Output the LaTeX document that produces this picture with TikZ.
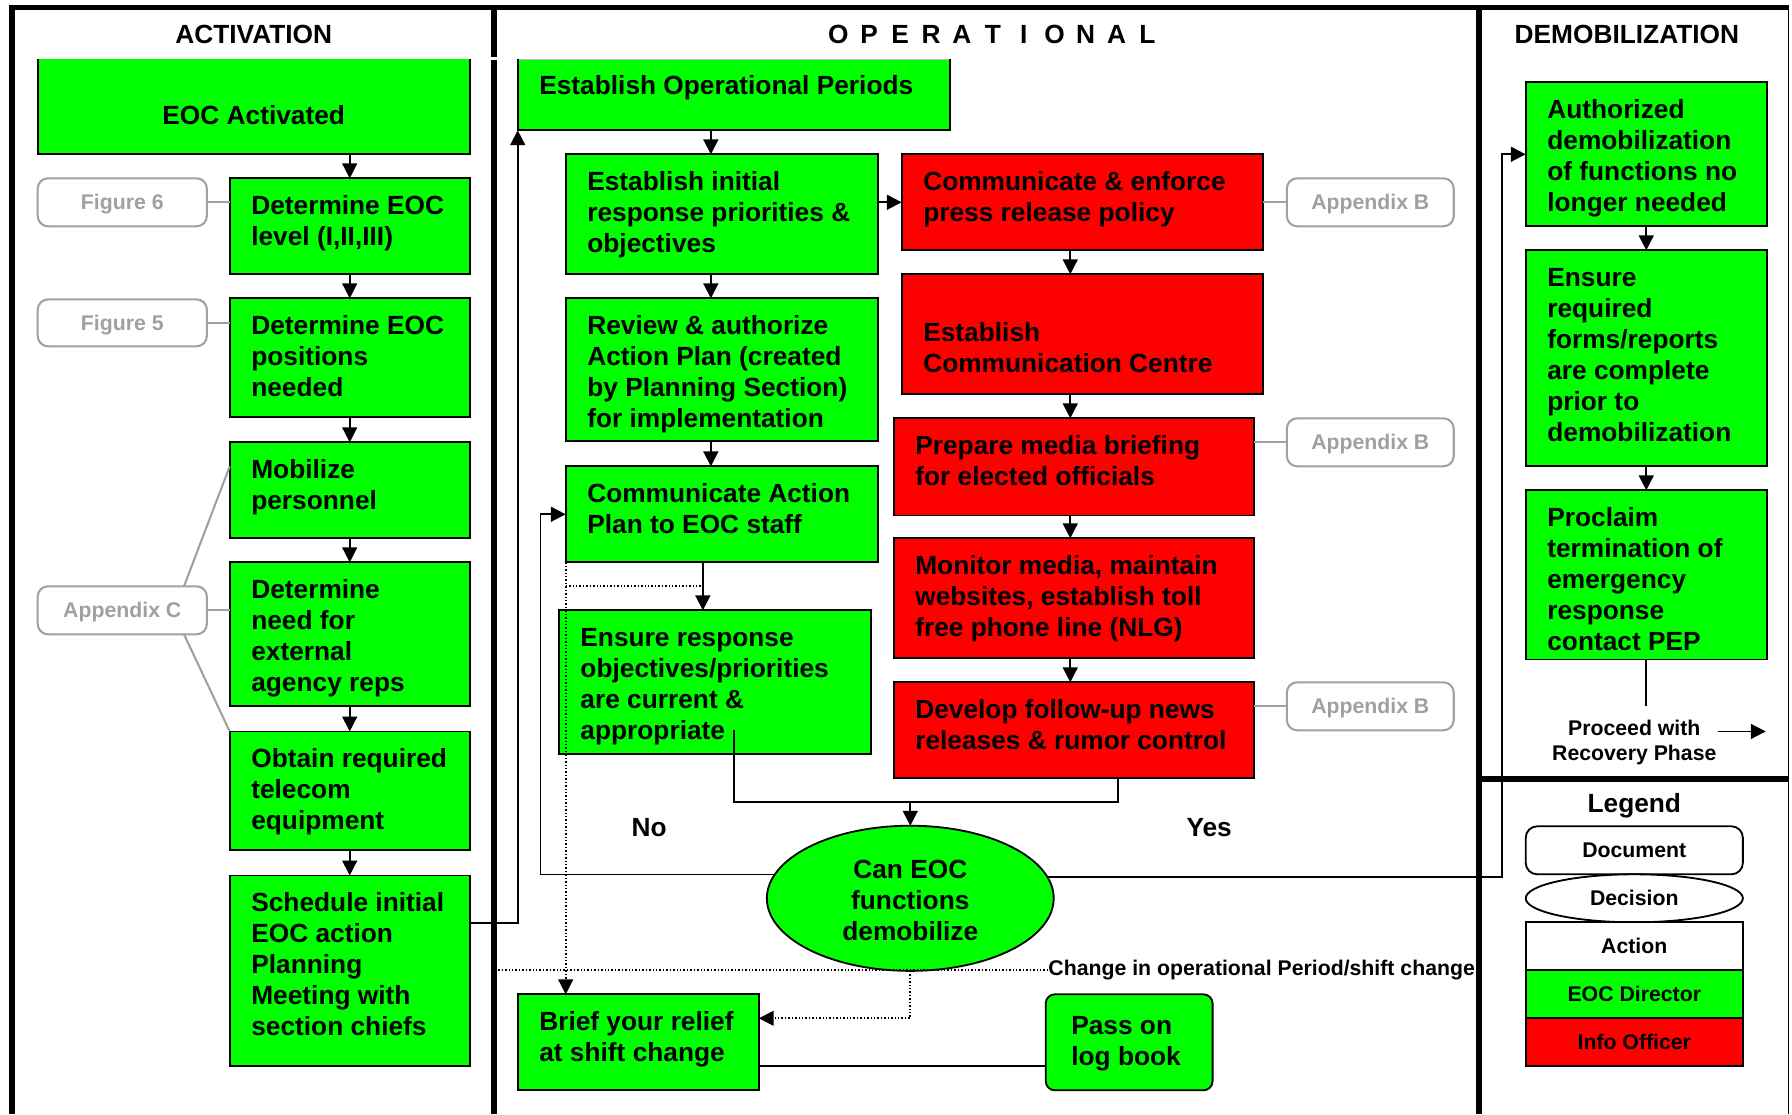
\documentclass[tikz,border=0pt]{standalone}
\usepackage{fontspec}
\setmainfont{Liberation Sans}
\usetikzlibrary{arrows.meta,calc,shapes.geometric}

\definecolor{dirgreen}{RGB}{0,255,0}
\definecolor{infored}{RGB}{255,0,0}
\definecolor{docgrey}{RGB}{160,160,160}

\tikzset{
  boxbase/.style={draw=black, line width=0.8pt, inner sep=0pt, outer sep=0pt, rectangle},
  dirbox/.style={boxbase, fill=dirgreen},
  infobox/.style={boxbase, fill=infored},
  docbox/.style={draw=docgrey, line width=0.9pt, rounded corners=4.5pt, inner sep=0pt, outer sep=0pt,
    text=docgrey, text depth=0pt, font=\fontsize{9.3}{11}\selectfont\bfseries},
  boxtext/.style={anchor=north west, align=left, inner sep=0pt, font=\fontsize{11.5}{13.6}\selectfont\bfseries},
  header/.style={inner sep=0pt, font=\fontsize{11.5}{13.6}\selectfont\bfseries},
  smalltext/.style={inner sep=0pt, align=center, font=\fontsize{9.3}{11}\selectfont\bfseries},
  legendbox/.style={draw=black, line width=0.8pt, inner sep=0pt, outer sep=0pt,
    minimum width=95pt, minimum height=21pt, font=\fontsize{9.3}{11}\selectfont\bfseries},
  flow/.style={line width=0.8pt, -{Triangle[length=6.5pt,width=6.5pt]}},
  plainline/.style={line width=0.8pt},
  refline/.style={draw=docgrey, line width=0.9pt},
  dotline/.style={line width=0.8pt, dash pattern=on 0.6pt off 0.9pt},
  framerule/.style={line width=2.2pt},
  divider/.style={line width=2.8pt},
}

% box from corner (x1,y1) to (x2,y2), text set from its top left corner
% #1 extra drop of the text, #2 name, #3 style, #4 x1, #5 y1, #6 x2, #7 y2, #8 text
\newcommand\flowbox[8][0pt]{%
  \pgfmathsetmacro\fbw{(#6-#4)/2}%
  \pgfmathsetmacro\fbh{(#7-#5)/2}%
  \node[#3, minimum width=\fbw pt, minimum height=\fbh pt] (#2) at ({(#4+#6)/2},{(#5+#7)/2}) {};%
  \node[boxtext] (#2-t) at ([xshift=9.25pt, yshift=-6.5pt-#1]#2.north west) {\rule{0pt}{9pt}#8};%
}

\begin{document}
\begin{tikzpicture}[x=0.5pt, y=-0.5pt]
\useasboundingbox (0,0) rectangle (1568,975);

% ---------- frame and column rules ----------
\draw[framerule] (10.5,975) -- (10.5,6.5) -- (1565,6.5);
\draw[line width=0.7pt] (1565,6.5) -- (1565,975);
\draw[divider] (432.5,6.5) -- (432.5,49.5);
\draw[divider] (432.5,52.5) -- (432.5,975);
\draw[divider] (1294,6.5) -- (1294,975);
\draw[divider] (1294,681.5) -- (1565,681.5);

% ---------- column headers ----------
\node[header] (hAct) at (222,30) {ACTIVATION};
\foreach \ch [count=\i from 0] in {O,P,E,R,A,T,I,O,N,A,L}
  \node[header] (hOp\i) at ({733.5+27.05*\i},30) {\ch};
\node[header] (hDem) at (1423.5,30) {DEMOBILIZATION};

% ---------- activation ----------
\node[fill=dirgreen, inner sep=0pt, outer sep=0pt, minimum width=189pt, minimum height=41.5pt] (act) at (222,93.5) {};
\draw[plainline] (act.north west) -- (act.south west) -- (act.south east) -- (act.north east);
\node[header] (act-t) at ([yshift=-3.75pt]act.center) {EOC Activated};

\flowbox{lvl}{dirbox}{201}{156}{411}{240}{Determine EOC\\level (I,II,III)}
\flowbox{pos}{dirbox}{201}{261}{411}{365}{Determine EOC\\positions\\needed}
\flowbox{mob}{dirbox}{201}{387}{411}{471}{Mobilize\\personnel}
\flowbox{need}{dirbox}{201}{492}{411}{618}{Determine\\need for\\external\\agency reps}
\flowbox{obt}{dirbox}{201}{640}{411}{744}{Obtain required\\telecom\\equipment}
\flowbox{sched}{dirbox}{201}{766}{411}{933}{Schedule initial\\EOC action\\Planning\\Meeting with\\section chiefs}

\node[docbox, minimum width=74pt, minimum height=21pt] (fig6) at (107,177) {Figure 6};
\node[docbox, minimum width=74pt, minimum height=20.5pt] (fig5) at (107,282.5) {Figure 5};
\node[docbox, minimum width=74pt, minimum height=21pt] (appc) at (107,534) {Appendix C};

\draw[flow] (lvl.north |- act.south) -- (lvl.north);
\draw[flow] (lvl.south) -- (pos.north);
\draw[flow] (pos.south) -- (mob.north);
\draw[flow] (mob.south) -- (need.north);
\draw[flow] (need.south) -- (obt.north);
\draw[flow] (obt.south) -- (sched.north);

\draw[refline] (fig6.east) -- (fig6.east -| lvl.west);
\draw[refline] (fig5.east) -- (fig5.east -| pos.west);
\draw[refline] (appc.east) -- (appc.east -| need.west);
\draw[refline] ($(appc.north east)+(-20,0)$) -- ($(mob.north west)+(0,21)$);
\draw[refline] ($(appc.south east)+(-20,0)$) -- (obt.north west);

% ---------- operational ----------
\node[fill=dirgreen, inner sep=0pt, outer sep=0pt, minimum width=189pt, minimum height=31pt] (eop) at (642,83) {};
\draw[black!25, line width=0.6pt] (eop.north west) -- (eop.north east);
\draw[plainline] (eop.north west) -- (eop.south west) -- (eop.south east) -- (eop.north east);
\node[header, anchor=base west] (eop-t) at ([xshift=9.25pt, yshift=0.3pt]eop.west) {Establish Operational Periods};

\flowbox{init}{dirbox}{495}{135}{768}{240}{Establish initial\\response priorities \&\\objectives}
\flowbox{rev}{dirbox}{495}{261}{768}{386}{Review \& authorize\\Action Plan (created\\by Planning Section)\\for implementation}
\flowbox{cap}{dirbox}{495}{408}{768}{492}{Communicate Action\\Plan to EOC staff}
\flowbox{ens}{dirbox}{489}{534}{762}{660}{Ensure response\\objectives/priorities\\are current \&\\appropriate}

\flowbox{comm}{infobox}{789}{135}{1105}{219}{Communicate \& enforce\\press release policy}
\flowbox[13.8pt]{ctr}{infobox}{789}{240}{1105}{345}{Establish\\Communication Centre}
\flowbox{prep}{infobox}{782}{366}{1097}{451}{Prepare media briefing\\for elected officials}
\flowbox{mon}{infobox}{782}{471}{1097}{576}{Monitor media, maintain\\websites, establish toll\\free phone line (NLG)}
\flowbox{dev}{infobox}{782}{597}{1097}{681}{Develop follow-up news\\releases \& rumor control}

\node[docbox, minimum width=73pt, minimum height=21pt] (apb1) at (1199,177) {Appendix B};
\node[docbox, minimum width=73pt, minimum height=21pt] (apb2) at (1199,387) {Appendix B};
\node[docbox, minimum width=73pt, minimum height=21pt] (apb3) at (1199,618) {Appendix B};

\node[ellipse, draw=black, line width=0.8pt, fill=dirgreen, inner sep=0pt, outer sep=0pt,
  minimum width=125.5pt, minimum height=63.5pt] (dec) at (796.5,786) {};
\node[header, align=center] (dec-t) at ([yshift=-1pt]dec.center) {Can EOC\\functions\\demobilize};

\flowbox{brief}{dirbox}{453}{870}{664}{954}{Brief your relief\\at shift change}
\node[dirbox, rounded corners=4pt, minimum width=73pt, minimum height=42pt] (pass) at (988,912) {};
\node[boxtext] (pass-t) at ([xshift=11pt, yshift=-8.3pt]pass.north west) {\rule{0pt}{9pt}Pass on\\log book};

\node[header] (lblNo) at (568,724) {No};
\node[header] (lblYes) at (1058,724) {Yes};

% helper columns and rows for connectors
\coordinate (colA) at (622,0);
\coordinate (colB) at (615,0);
\coordinate (colC) at (936.5,0);
\coordinate (colD) at (978,0);
\coordinate (rowMerge) at (0,702);
\coordinate (rowLoop) at (0,513);
\coordinate (ensOut) at (642,639);
\coordinate (schedOut) at ($(sched.north east)!0.25!(sched.south east)$);
\coordinate (briefIn) at ($(brief.north east)!0.25!(brief.south east)$);
\coordinate (briefOut) at ($(brief.north east)!0.75!(brief.south east)$);
\coordinate (shiftL) at (436,849);

\draw[flow] (schedOut) -| (eop.south west);
\draw[flow] (colA |- eop.south) -- (colA |- init.north);
\draw[flow] (colA |- init.south) -- (colA |- rev.north);
\draw[flow] (colA |- rev.south) -- (colA |- cap.north);
\draw[flow] (colB |- cap.south) -- (colB |- ens.north);
\draw[flow] (init.east |- comm.west) -- (comm.west);

\draw[flow] (colC |- comm.south) -- (colC |- ctr.north);
\draw[flow] (colC |- ctr.south) -- (colC |- prep.north);
\draw[flow] (colC |- prep.south) -- (colC |- mon.north);
\draw[flow] (colC |- mon.south) -- (colC |- dev.north);

\draw[refline] (comm.east |- apb1.west) -- (apb1.west);
\draw[refline] (prep.east |- apb2.west) -- (apb2.west);
\draw[refline] (dev.east |- apb3.west) -- (apb3.west);

\draw[plainline] (ensOut) |- (colD |- rowMerge) -- (colD |- dev.south);
\draw[flow] (dec.north |- rowMerge) -- (dec.north);

\draw[flow] (dec.170.5) -| ([xshift=-11pt]cap.west) -- (cap.west);

% shift change paths
\draw[dotline] (cap.south west |- rowLoop) -- (colB |- rowLoop);
\draw[dotline, -{Triangle[length=6.5pt,width=6.5pt]}] (cap.south west) -- (cap.south west |- brief.north);
\node[smalltext, anchor=west] (chg) at (917,849) {Change in operational Period/shift change};
\draw[dotline] (shiftL) -- (chg.west);
\draw[dotline, -{Triangle[length=6.5pt,width=6.5pt]}] (dec.south) |- (briefIn);
\draw[plainline] (briefOut) -- (briefOut -| pass.west);

% ---------- demobilization ----------
\flowbox{auth}{dirbox}{1335}{72}{1546}{198}{Authorized\\demobilization\\of functions no\\longer needed}
\flowbox{req}{dirbox}{1335}{219}{1546}{408}{Ensure\\required\\forms/reports\\are complete\\prior to\\demobilization}
\flowbox{proc}{dirbox}{1335}{429}{1546}{577}{Proclaim\\termination of\\emergency\\response\\contact PEP}

\draw[flow] (dec.9.5) -| ([xshift=-10.5pt]auth.west) -- (auth.west);
\draw[flow] (auth.south) -- (req.north);
\draw[flow] (req.south) -- (proc.north);

\coordinate (procEnd) at (1441,618);
\draw[plainline] (proc.south) -- (proc.south |- procEnd);
\node[smalltext] (recov) at (1430,650) {Proceed with\\Recovery Phase};
\coordinate (recA) at (1503,640);
\coordinate (recB) at (1545,640);
\draw[flow] (recA) -- (recB);

% ---------- legend ----------
\node[header] (legTitle) at (1430,705) {Legend};
\node[legendbox, rounded corners=5pt, fill=white] (legDoc) at (1430,744) {Document};
\node[legendbox, ellipse, fill=white] (legDec) at (1430,786) {Decision};
\node[legendbox, fill=white] (legAct) at (1430,828) {Action};
\node[legendbox, fill=dirgreen] (legDir) at (1430,870) {EOC Director};
\node[legendbox, fill=infored] (legInfo) at (1430,912) {Info Officer};

\end{tikzpicture}
\end{document}
